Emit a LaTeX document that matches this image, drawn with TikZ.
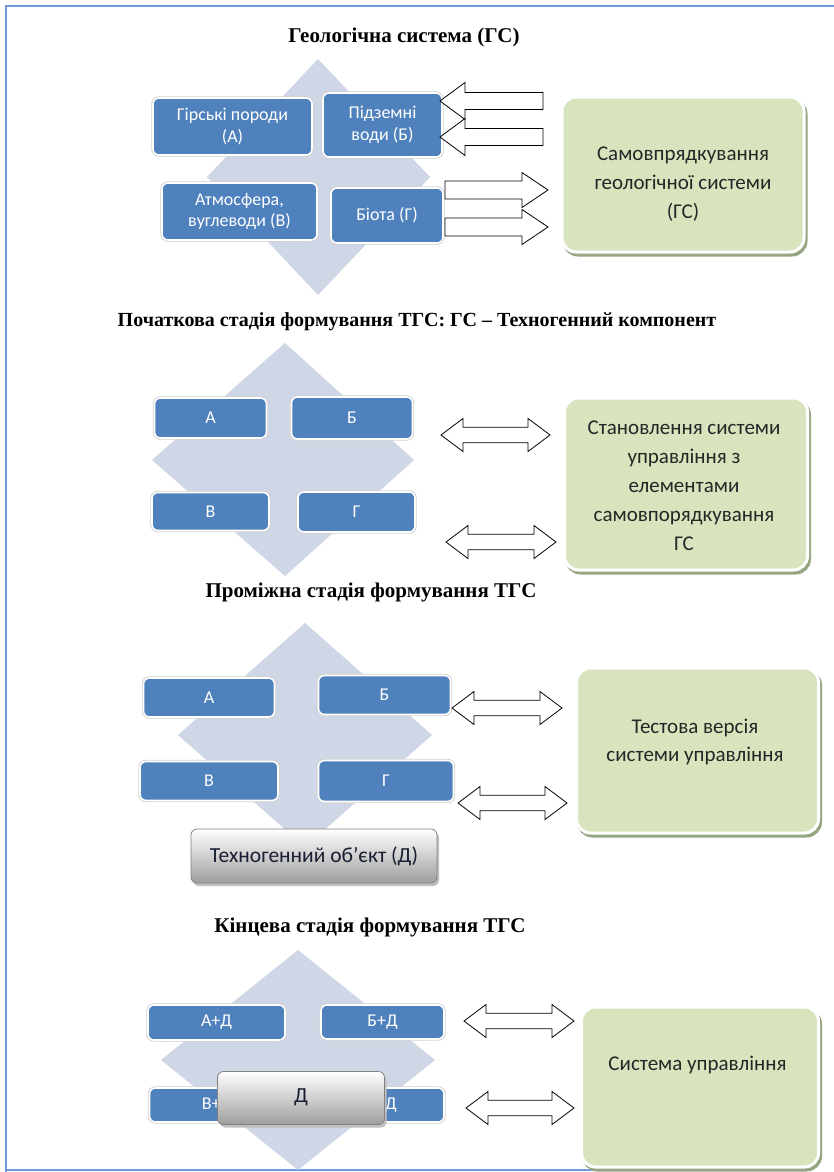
\documentclass[tikz,border=0pt]{standalone}
\usepackage{fontspec}
\setmainfont{Carlito}
\newfontfamily\titlefont{Liberation Serif}
\usetikzlibrary{calc}
\definecolor{boxblue}{RGB}{79,129,189}
\definecolor{diamondcol}{RGB}{207,214,229}
\definecolor{greenfill}{RGB}{215,228,189}
\definecolor{greenshadow}{RGB}{150,165,130}
\definecolor{framecol}{RGB}{110,155,215}
\definecolor{textdark}{RGB}{38,38,38}
\definecolor{navytext}{RGB}{25,30,50}
\tikzset{
  diam/.style={fill=diamondcol, draw=none},
  bluebox/.style={rectangle, rounded corners=6pt, fill=boxblue, text=white,
    draw=white, line width=1.6pt, align=center, inner sep=0pt,
    preaction={draw=black!18, line width=3.4pt}},
  greenbox/.style={rectangle, rounded corners=14pt, fill=greenfill, draw=white,
    line width=3pt, text=textdark, align=center, inner sep=0pt,
    preaction={fill=greenshadow, draw=greenshadow, line width=3pt, transform canvas={shift={(2pt,-3pt)}}}},
  greentext/.style={font=\fontsize{21}{29}\selectfont, text=textdark, align=center},
  graybox/.style={rectangle, rounded corners=6pt, draw=black!50, line width=0.8pt,
    top color=white, bottom color=black!38, text=navytext, align=center, inner sep=0pt,
    font=\fontsize{21.5}{24}\selectfont,
    preaction={fill=black!25, draw=none, transform canvas={shift={(2pt,-3pt)}}}},
  barrow/.style={draw=black, fill=white, line width=0.8pt, line join=miter},
  ttl/.style={font=\titlefont\bfseries\fontsize{21}{24}\selectfont, text=black},
  t1/.style={font=\fontsize{18}{21.5}\selectfont},
  t2/.style={font=\fontsize{18}{20}\selectfont},
}
% left arrow: tip x, y, tail x
\newcommand{\larrow}[3]{\draw[barrow] (#1,#2) -- (#1+25,#2-18.5) -- (#1+25,#2-8.5) -- (#3,#2-8.5) -- (#3,#2+8.5) -- (#1+25,#2+8.5) -- (#1+25,#2+18.5) -- cycle;}
% right arrow: tail x, y, tip x
\newcommand{\rarrow}[3]{\draw[barrow] (#3,#2) -- (#3-26,#2-17.5) -- (#3-26,#2-9) -- (#1,#2-9) -- (#1,#2+9) -- (#3-26,#2+9) -- (#3-26,#2+17.5) -- cycle;}
% double arrow: left tip x, right tip x, y
\newcommand{\dblarrow}[3]{\draw[barrow] (#1,#3) -- (#1+22,#3-16.5) -- (#1+22,#3-7.7) -- (#2-22,#3-7.7) -- (#2-22,#3-16.5) -- (#2,#3) -- (#2-22,#3+16.5) -- (#2-22,#3+7.7) -- (#1+22,#3+7.7) -- (#1+22,#3+16.5) -- cycle;}
\begin{document}
\begin{tikzpicture}[x=1pt,y=-1pt]
\useasboundingbox (0,0) rectangle (834,1172);
\fill[white] (0,0) rectangle (834,1172);
% page frame
\draw[framecol, line width=2pt] (6,1172) -- (6,6) -- (834,6);
\draw[framecol, line width=1.6pt] (6,1170) -- (600,1170);

% ===== Section 1 =====
\node[ttl] (title1) at (404,37) {Геологічна система (ГС)};
\fill[diam] (318,59) -- (430,177) -- (318,295) -- (207,177) -- cycle;
\node[bluebox, t1, minimum width=159pt, minimum height=57pt] (a1) at (232.5,126.5) {Гірські породи\\(А)};
\node[bluebox, t1, minimum width=119pt, minimum height=64pt] (b1) at (382.5,125) {Підземні\\води (Б)};
\node[bluebox, t1, minimum width=155pt, minimum height=57pt] (v1) at (239.5,211.5) {Атмосфера,\\вуглеводи (В)};
\node[bluebox, t1, minimum width=112pt, minimum height=55pt] (g1) at (387,215.5) {Біота (Г)};
\larrow{440}{101}{543}
\larrow{440}{137}{543}
\rarrow{445}{190}{548}
\rarrow{445}{227}{548}
\node[greenbox, minimum width=242pt, minimum height=155pt] (s1) at (683,174.5) {};
\node[greentext] (s1t) at (683,184) {Самовпрядкування\\геологічної системи\\(ГС)};

% ===== Section 2 =====
\node[ttl, font=\titlefont\bfseries\fontsize{20}{24}\selectfont] (title2) at (417,322) {Початкова стадія формування ТГС: ГС – Техногенний компонент};
\fill[diam] (285,343) -- (414,460) -- (285,576) -- (152,460) -- cycle;
\node[bluebox, t2, minimum width=112pt, minimum height=40pt] (a2) at (210.5,418) {А};
\node[bluebox, t2, minimum width=121pt, minimum height=42pt] (b2) at (352,418) {Б};
\node[bluebox, t2, minimum width=117pt, minimum height=38pt] (v2) at (210.5,511.5) {В};
\node[bluebox, t2, minimum width=117pt, minimum height=40pt] (g2) at (356.5,512) {Г};
\dblarrow{441}{550}{435}
\dblarrow{446}{556}{542}
\node[greenbox, minimum width=243pt, minimum height=172pt] (s2) at (686,484) {};
\node[greentext] (s2t) at (684,486) {Становлення системи\\управління з\\елементами\\самовпорядкування\\ГС};

% ===== Section 3 =====
\node[ttl] (title3) at (371,592) {Проміжна стадія формування ТГС};
\fill[diam] (305,623) -- (432,735) -- (305,847) -- (178,735) -- cycle;
\node[bluebox, t2, minimum width=131pt, minimum height=39pt] (a3) at (209,697.5) {А};
\node[bluebox, t2, minimum width=132pt, minimum height=39pt] (b3) at (384.5,695) {Б};
\node[bluebox, t2, minimum width=138pt, minimum height=39pt] (v3) at (209,781) {В};
\node[bluebox, t2, minimum width=135pt, minimum height=41pt] (g3) at (386,781) {Г};
\node[graybox, minimum width=246pt, minimum height=54pt] (d3) at (314,856) {\raisebox{2pt}{Техногенний об’єкт (Д)}};
\dblarrow{452}{562}{708}
\dblarrow{458}{567}{803}
\node[greenbox, minimum width=242pt, minimum height=165pt] (s3) at (697.5,750.5) {};
\node[greentext, font=\fontsize{21}{28}\selectfont] (s3t) at (695,742) {Тестова версія\\системи управління};

% ===== Section 4 =====
\node[ttl] (title4) at (370,927) {Кінцева стадія формування ТГС};
\fill[diam] (298,950) -- (435,1060) -- (298,1170) -- (161,1060) -- cycle;
\node[bluebox, t2, minimum width=137pt, minimum height=35pt] (a4) at (216.5,1022.5) {А+Д};
\node[bluebox, t2, minimum width=123pt, minimum height=34pt] (b4) at (382.5,1022) {Б+Д};
\node[bluebox, t2, minimum width=135pt, minimum height=34pt] (v4) at (217,1105) {В+Д};
\node[bluebox, t2, minimum width=123pt, minimum height=34pt] (g4) at (382.5,1105) {Г+Д};
\node[graybox, minimum width=167pt, minimum height=53pt] (d4) at (301,1098) {\raisebox{4pt}{Д}};
\dblarrow{464}{574}{1021}
\dblarrow{466}{574}{1108}
\node[greenbox, minimum width=237pt, minimum height=160pt] (s4) at (700,1087) {};
\node[greentext] (s4t) at (697.5,1065) {Система управління};
\end{tikzpicture}
\end{document}
